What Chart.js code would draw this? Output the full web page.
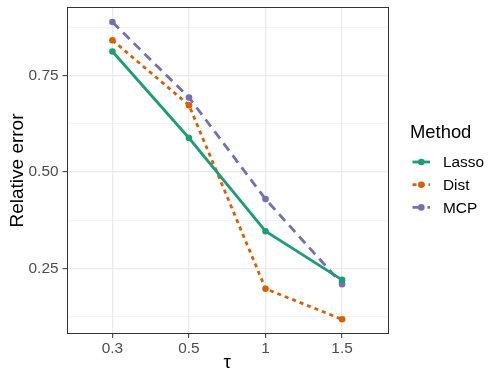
<!DOCTYPE html>
<html>
<head>
<meta charset="utf-8">
<script src="https://cdn.jsdelivr.net/npm/chart.js@4"></script>
<style>
  html, body { margin: 0; padding: 0; background: #fff; }
  #wrap { width: 500px; height: 380px; }
</style>
</head>
<body>
<div id="wrap"><canvas id="relChart" width="500" height="380"></canvas></div>
<script>
const taus = ['0.3', '0.5', '1', '1.5'];
const lasso = [0.812, 0.588, 0.347, 0.221];
const dist = [0.841, 0.673, 0.198, 0.119];
const mcp = [0.888, 0.693, 0.430, 0.210];
const yMajor = [0.25, 0.5, 0.75];
const yMinor = [0.125, 0.375, 0.625, 0.875];

const FONT = "'Liberation Sans', Arial, Helvetica, sans-serif";

function pts(vals) {
    return vals.map((v, i) => ({ x: i + 1, y: v }));
}

function series(label, vals, color, dash) {
    return {
        label: label, data: pts(vals), borderColor: color, backgroundColor: color,
        borderWidth: 2.8, borderDash: dash, borderCapStyle: 'butt',
        pointRadius: 3.3, pointHoverRadius: 3.3, pointBorderWidth: 0, tension: 0
    };
}

// panel border + legend like ggplot theme_bw
const panelBits = {
    id: 'panelBits',
    afterDatasetsDraw(chart) {
        const { ctx, chartArea: a } = chart;
        ctx.save();
        ctx.strokeStyle = '#333333';
        ctx.lineWidth = 1;
        ctx.strokeRect(Math.round(a.left) + 0.5, Math.round(a.top) + 0.5,
            Math.round(a.right - a.left) - 1, Math.round(a.bottom - a.top) - 1);
        ctx.restore();
    },
    afterDraw(chart) {
        const { ctx } = chart;
        ctx.save();
        ctx.fillStyle = '#000';
        ctx.font = '18.4px ' + FONT;
        ctx.textBaseline = 'alphabetic';
        ctx.fillText('Method', 410, 138);
        ctx.font = '15.4px ' + FONT;
        ctx.textBaseline = 'middle';
        chart.data.datasets.forEach((ds, i) => {
            const y = 162 + i * 22.7;
            ctx.strokeStyle = ds.borderColor;
            ctx.lineWidth = ds.borderWidth;
            ctx.setLineDash(ds.borderDash || []);
            ctx.beginPath();
            ctx.moveTo(412.5, y);
            ctx.lineTo(430, y);
            ctx.stroke();
            ctx.setLineDash([]);
            ctx.fillStyle = ds.borderColor;
            ctx.beginPath();
            ctx.arc(421.3, y, ds.pointRadius, 0, Math.PI * 2);
            ctx.fill();
            ctx.fillStyle = '#000';
            ctx.fillText(ds.label, 443, y + 1);
        });
        ctx.restore();
    }
};

new Chart(document.getElementById('relChart').getContext('2d'), {
    type: 'line',
    data: {
        datasets: [
            series('Lasso', lasso, '#1B9E77', []),
            series('Dist', dist, '#D95F02', [4, 4]),
            series('MCP', mcp, '#7570B3', [9, 6])
        ]
    },
    options: {
        responsive: false, animation: false,
        layout: { padding: { top: 7, right: 112, bottom: 0, left: 0 } },
        plugins: { legend: { display: false }, tooltip: { enabled: false } },
        scales: {
            x: {
                type: 'linear', min: 0.4, max: 4.6,
                afterBuildTicks: s => { s.ticks = taus.map((t, i) => ({ value: i + 1 })); },
                afterFit: s => { s.height = 46; s.paddingLeft = 0; s.paddingRight = 0; },
                ticks: {
                    callback: v => taus[v - 1], color: '#4D4D4D', padding: 2,
                    font: { family: FONT, size: 15.4 }, maxRotation: 0
                },
                grid: { color: '#EBEBEB', lineWidth: 1.3, tickLength: 4, tickColor: '#333333', tickWidth: 1 },
                border: { display: false },
                title: { display: true, text: 'τ', color: '#000', font: { family: FONT, size: 19 }, padding: { top: 0, bottom: 6 } }
            },
            y: {
                min: 0.081, max: 0.927,
                afterBuildTicks: s => {
                    s.ticks = yMajor.concat(yMinor).sort((a, b) => a - b).map(v => ({ value: v }));
                },
                afterFit: s => { s.width = 66.5; s.paddingTop = 0; s.paddingBottom = 0; },
                ticks: {
                    callback: v => yMajor.includes(v) ? v.toFixed(2) : '',
                    color: '#4D4D4D', padding: 4,
                    font: { family: FONT, size: 15.4 }
                },
                grid: {
                    color: '#EBEBEB',
                    lineWidth: c => (c.tick && yMajor.includes(c.tick.value)) ? 1.3 : 0.7,
                    tickLength: 4,
                    tickColor: c => (c.tick && yMajor.includes(c.tick.value)) ? '#333333' : 'rgba(0,0,0,0)',
                    tickWidth: 1
                },
                border: { display: false },
                title: { display: true, text: 'Relative error', color: '#000', font: { family: FONT, size: 19 }, padding: { top: 6, bottom: 0 } }
            }
        }
    },
    plugins: [panelBits]
});
</script>
</body>
</html>
